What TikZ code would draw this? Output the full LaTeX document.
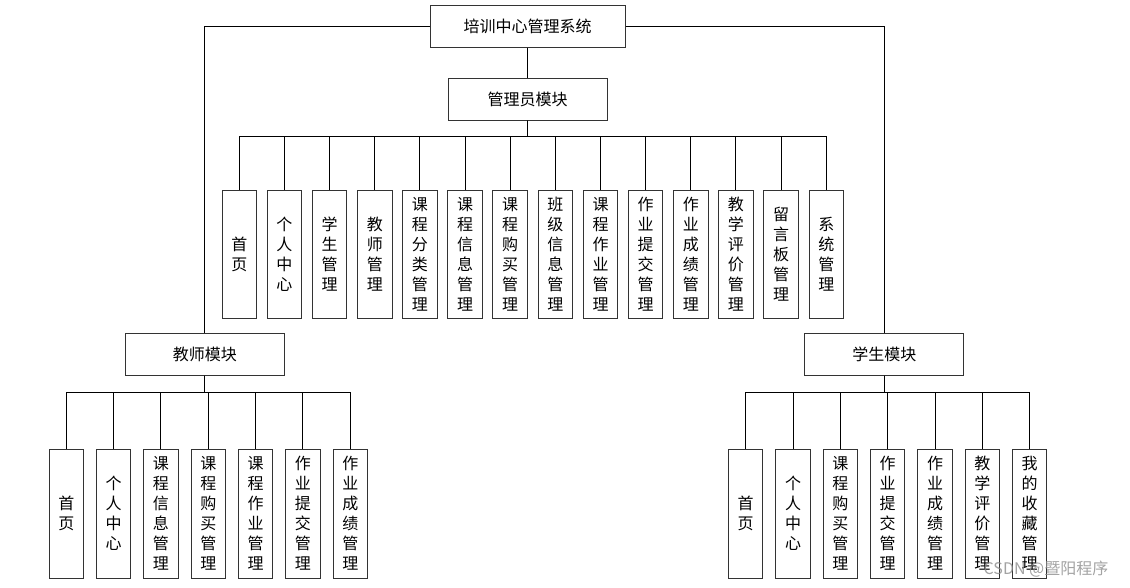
\documentclass[tikz,border=0pt]{standalone}
\usepackage{fontspec}
\newfontfamily\cjk{Noto Sans CJK SC}
\usetikzlibrary{calc}
\tikzset{
  hbox/.style={draw=black!80, line width=1pt, fill=white, minimum width=159pt, minimum height=42pt, inner sep=0pt, font=\cjk\fontsize{16}{20}\selectfont},
  vbox/.style={draw=black!80, line width=1pt, fill=white, minimum width=34.5pt, minimum height=129pt, inner sep=0pt, align=center, font=\cjk\fontsize{16}{20}\selectfont},
  conn/.style={draw=black, line width=1pt}
}
\begin{document}
\begin{tikzpicture}[x=1pt,y=-1pt]
\useasboundingbox (0,0) rectangle (1130,587);
\node[hbox, minimum width=195pt] (top) at (527.5,26) {培训中心管理系统};
\node[hbox] (adm) at (527.5,99) {管理员模块};
\node[hbox] (tea) at (204.8,354) {教师模块};
\node[hbox] (stu) at (884.3,354) {学生模块};
\coordinate (ab) at (527.5,136);
\coordinate (tb) at (204.8,392);
\coordinate (sb) at (884.3,392);
\draw[conn] (top.south) -- (adm.north);
\draw[conn] (top.west) -| (tea.north);
\draw[conn] (top.east) -| (stu.north);
\foreach \t [count=\i from 0] in {首\\页, 个\\人\\中\\心, 学\\生\\管\\理, 教\\师\\管\\理, 课\\程\\分\\类\\管\\理, 课\\程\\信\\息\\管\\理, 课\\程\\购\\买\\管\\理, 班\\级\\信\\息\\管\\理, 课\\程\\作\\业\\管\\理, 作\\业\\提\\交\\管\\理, 作\\业\\成\\绩\\管\\理, 教\\学\\评\\价\\管\\理, 留\\言\\板\\管\\理, 系\\统\\管\\理}{
  \node[vbox, minimum height=128pt] (a\i) at ({239.3+45.15*\i},254) {\t};
  \draw[conn] (adm.south) -- (ab) -| (a\i.north);
}
\foreach \t [count=\i from 0] in {首\\页, 个\\人\\中\\心, 课\\程\\信\\息\\管\\理, 课\\程\\购\\买\\管\\理, 课\\程\\作\\业\\管\\理, 作\\业\\提\\交\\管\\理, 作\\业\\成\\绩\\管\\理}{
  \node[vbox] (t\i) at ({66.3+47.33*\i},513.5) {\t};
  \draw[conn] (tea.south) -- (tb) -| (t\i.north);
}
\foreach \t [count=\i from 0] in {首\\页, 个\\人\\中\\心, 课\\程\\购\\买\\管\\理, 作\\业\\提\\交\\管\\理, 作\\业\\成\\绩\\管\\理, 教\\学\\评\\价\\管\\理, 我\\的\\收\\藏\\管\\理}{
  \node[vbox] (s\i) at ({745.7+47.33*\i},513.5) {\t};
  \draw[conn] (stu.south) -- (sb) -| (s\i.north);
}
\node[text=black!45, opacity=0.8, font=\cjk\fontsize{16}{20}\selectfont, inner sep=0pt] (wm) at (1046,569) {CSDN @暨阳程序};
\end{tikzpicture}
\end{document}
